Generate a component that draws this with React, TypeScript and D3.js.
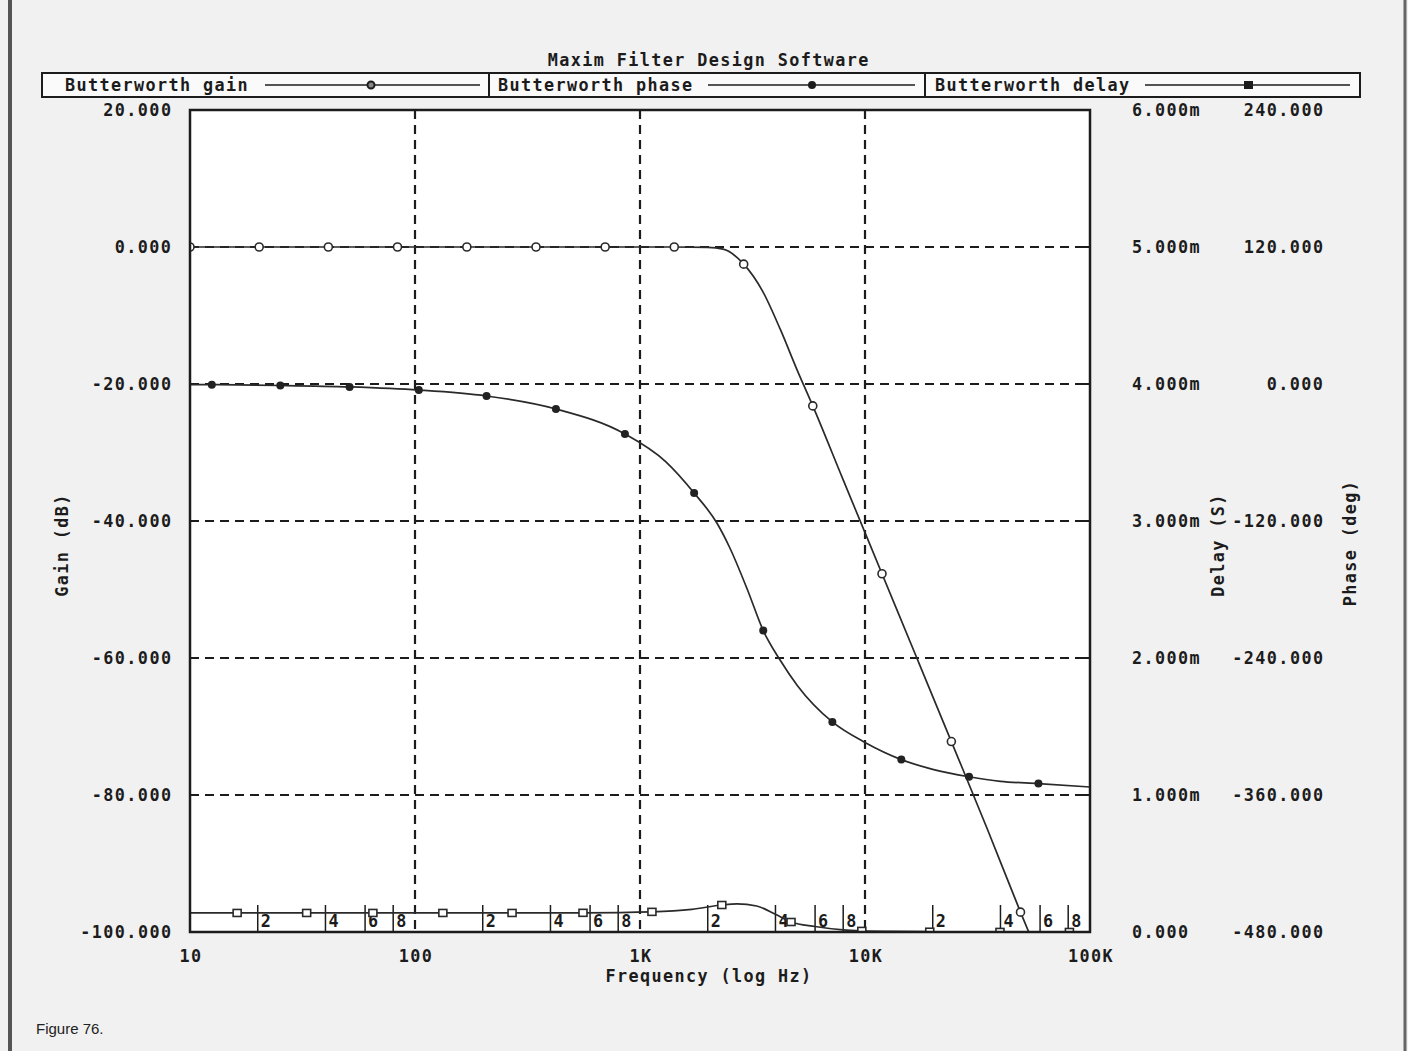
import React, { useEffect } from "react";
import * as d3 from "d3";

// ---------- data ----------
const gainFreq = [10, 20.3, 41.2, 83.6, 170, 345, 700, 1420, 2000, 2340, 2890, 3500, 4200, 5000, 5860, 8000, 11900, 17000, 24200, 35000, 49100, 60000];
const gainDb = [0, 0, 0, 0, 0, 0, 0, 0, -0.05, -0.3, -2.5, -6.4, -12, -18, -23.2, -34, -47.7, -60, -72.2, -85, -97.1, -104];
const gainMarkFreq = [10, 20.3, 41.2, 83.6, 170, 345, 700, 1420, 2890, 5860, 11900, 24200, 49100];

const phaseFreq = [10, 12.5, 25.2, 51.2, 104, 208, 423, 857, 1300, 1740, 2200, 2500, 3000, 3530, 4200, 5000, 7160, 10000, 14500, 20000, 29000, 40000, 59000, 100000];
const phaseDeg = [-0.5, -0.6, -1.3, -2.6, -5.3, -10.5, -21.9, -43.8, -68, -95.5, -122, -143, -180, -216, -242, -264, -296, -314, -329, -337.5, -344, -348, -350, -353];
const phaseMarkFreq = [12.5, 25.2, 51.2, 104, 208, 423, 857, 1740, 3530, 7160, 14500, 29000, 59000];

const delayFreq = [10, 16.2, 33, 65, 133, 270, 558, 1130, 1700, 2310, 2700, 3300, 4000, 4690, 6000, 8000, 9680, 13000, 19400, 39800, 81000, 100000];
const delayMs = [0.139, 0.139, 0.139, 0.139, 0.139, 0.139, 0.14, 0.147, 0.165, 0.197, 0.205, 0.19, 0.13, 0.073, 0.04, 0.015, 0.008, 0.004, 0.002, 0.0005, 0.0001, 0];
const delayMarkFreq = [16.2, 33, 65, 133, 270, 558, 1130, 2310, 4690, 9680, 19400, 39800, 81000];

const gainTicks = [20, 0, -20, -40, -60, -80, -100];
const delayTicks = [6, 5, 4, 3, 2, 1, 0];
const delayTickLabels = ["6.000m", "5.000m", "4.000m", "3.000m", "2.000m", "1.000m", "0.000"];
const phaseTicks = [240, 120, 0, -120, -240, -360, -480];
const freqTicks = [10, 100, 1000, 10000, 100000];
const freqTickLabels = ["10", "100", "1K", "10K", "100K"];
const minorMultipliers = [2, 4, 6, 8];
const decades = [10, 100, 1000, 10000];
const gridFreq = [100, 1000, 10000];
const gridGain = [0, -20, -40, -60, -80];

const titleText = "Maxim Filter Design Software";
const legendLabels = ["Butterworth gain", "Butterworth phase", "Butterworth delay"];

// ---------- layout ----------
const W = 1408, H = 1051;
const L = 190, R = 1090, T = 110, B = 932;
const INK = "#1c1c1c";
const LS = 1.4;
const mono = { fontFamily: "'DejaVu Sans Mono', monospace", fontWeight: 700 as const, fontSize: 16.8, letterSpacing: LS, fill: INK };

export default function App() {
  useEffect(() => {
    document.body.style.margin = "0";
  }, []);

  const x = d3.scaleLog().domain([10, 100000]).range([L, R]);
  const yG = d3.scaleLinear().domain([-100, 20]).range([B, T]);
  const yD = d3.scaleLinear().domain([0, 6]).range([B, T]);
  const yP = d3.scaleLinear().domain([-480, 240]).range([B, T]);

  const mk = (fs: number[], vs: number[], ys: d3.ScaleLinear<number, number>) =>
    d3.line<number>().x((_, i) => x(fs[i])).y((_, i) => ys(vs[i])).curve(d3.curveMonotoneX)(fs.map((_, i) => i)) || "";

  const interp = (fs: number[], vs: number[], f: number) => {
    for (let i = 0; i < fs.length - 1; i++) {
      if (f >= fs[i] && f <= fs[i + 1]) {
        const t = (Math.log10(f) - Math.log10(fs[i])) / (Math.log10(fs[i + 1]) - Math.log10(fs[i]));
        return vs[i] + t * (vs[i + 1] - vs[i]);
      }
    }
    return vs[vs.length - 1];
  };

  const gainPath = mk(gainFreq, gainDb, yG);
  const phasePath = mk(phaseFreq, phaseDeg, yP);
  const delayPath = mk(delayFreq, delayMs, yD);

  const minor: number[] = [];
  decades.forEach((d) => minorMultipliers.forEach((m) => minor.push(d * m)));

  return (
    <svg width={W} height={H} style={{ position: "absolute", left: 0, top: 0, display: "block" }}>
      <defs>
        <clipPath id="plotclip">
          <rect x={L} y={T} width={R - L} height={B - T} />
        </clipPath>
      </defs>
      <rect x={0} y={0} width={W} height={H} fill="#f1f1f1" />
      <line x1={10} y1={0} x2={10} y2={H} stroke="#555" strokeWidth={4} />
      <line x1={1405} y1={0} x2={1405} y2={H} stroke="#666" strokeWidth={3} />

      {/* title */}
      <text x={708 + LS / 2} y={66} textAnchor="middle" {...mono}>{titleText}</text>

      {/* legend */}
      <rect x={42} y={73} width={1318} height={24} fill="#fafafa" stroke={INK} strokeWidth={2} />
      <line x1={489} y1={73} x2={489} y2={97} stroke={INK} strokeWidth={2} />
      <line x1={925} y1={73} x2={925} y2={97} stroke={INK} strokeWidth={2} />
      <text x={65} y={91} {...mono}>{legendLabels[0]}</text>
      <line x1={265} y1={85} x2={480} y2={85} stroke={INK} strokeWidth={1.5} />
      <circle cx={371} cy={85} r={3.5} fill="#888" stroke={INK} strokeWidth={2} />
      <text x={498} y={91} {...mono}>{legendLabels[1]}</text>
      <line x1={708} y1={85} x2={915} y2={85} stroke={INK} strokeWidth={1.5} />
      <circle cx={812} cy={85} r={4} fill={INK} />
      <text x={935} y={91} {...mono}>{legendLabels[2]}</text>
      <line x1={1145} y1={85} x2={1350} y2={85} stroke={INK} strokeWidth={1.5} />
      <rect x={1244} y={81} width={9} height={8} fill={INK} />

      {/* plot area */}
      <rect x={L} y={T} width={R - L} height={B - T} fill="#ffffff" />

      {/* grid */}
      {gridFreq.map((f) => (
        <line key={"gx" + f} x1={x(f)} y1={T} x2={x(f)} y2={B} stroke={INK} strokeWidth={2.2} strokeDasharray="9,6" />
      ))}
      {gridGain.map((g) => (
        <line key={"gy" + g} x1={L} y1={yG(g)} x2={R} y2={yG(g)} stroke={INK} strokeWidth={2.2} strokeDasharray="9,6" />
      ))}

      {/* minor ticks with labels */}
      {minor.map((f, i) => (
        <g key={"mn" + f}>
          <line x1={x(f)} y1={B - 27} x2={x(f)} y2={B} stroke={INK} strokeWidth={1.5} />
          <text x={x(f) + 3} y={B - 5} {...mono} letterSpacing={0}>{String(minorMultipliers[i % 4])}</text>
        </g>
      ))}

      {/* axis ticks */}
      {gainTicks.map((g) => (
        <line key={"lt" + g} x1={L} y1={yG(g)} x2={L + 6} y2={yG(g)} stroke={INK} strokeWidth={2} />
      ))}
      {delayTicks.map((d) => (
        <line key={"rt" + d} x1={R - 6} y1={yD(d)} x2={R} y2={yD(d)} stroke={INK} strokeWidth={2} />
      ))}

      {/* series */}
      <g clipPath="url(#plotclip)" fill="none" stroke="#2a2a2a" strokeWidth={1.7}>
        <path d={delayPath} />
        <path d={phasePath} />
        <path d={gainPath} />
      </g>
      <g clipPath="url(#plotclip)">
        {gainMarkFreq.map((f) => (
          <circle key={"gm" + f} cx={x(f)} cy={yG(interp(gainFreq, gainDb, f))} r={4} fill="#fff" stroke="#2a2a2a" strokeWidth={1.6} />
        ))}
        {phaseMarkFreq.map((f) => (
          <circle key={"pm" + f} cx={x(f)} cy={yP(interp(phaseFreq, phaseDeg, f))} r={4} fill="#222" />
        ))}
        {delayMarkFreq.map((f) => (
          <rect key={"dm" + f} x={x(f) - 4} y={yD(interp(delayFreq, delayMs, f)) - 3.5} width={8} height={7} fill="#fff" stroke="#2a2a2a" strokeWidth={1.6} />
        ))}
      </g>

      {/* frame */}
      <rect x={L} y={T} width={R - L} height={B - T} fill="none" stroke={INK} strokeWidth={2.5} />

      {/* left axis labels */}
      {gainTicks.map((g) => (
        <text key={"gl" + g} x={171 + LS} y={yG(g) + 6} textAnchor="end" {...mono}>{g.toFixed(3)}</text>
      ))}
      <text transform={`translate(68,545) rotate(-90)`} textAnchor="middle" {...mono}>Gain (dB)</text>

      {/* right axis labels */}
      {delayTicks.map((d, i) => (
        <text key={"dl" + d} x={1132} y={yD(d) + 6} {...mono}>{delayTickLabels[i]}</text>
      ))}
      {phaseTicks.map((p) => (
        <text key={"pl" + p} x={1323 + LS} y={yP(p) + 6} textAnchor="end" {...mono}>{p.toFixed(3)}</text>
      ))}
      <text transform={`translate(1224,545) rotate(-90)`} textAnchor="middle" {...mono}>Delay (S)</text>
      <text transform={`translate(1356,543) rotate(-90)`} textAnchor="middle" {...mono}>Phase (deg)</text>

      {/* x axis labels */}
      {freqTicks.map((f, i) => (
        <text key={"xl" + f} x={x(f) + 1} y={962} textAnchor="middle" {...mono}>{freqTickLabels[i]}</text>
      ))}
      <text x={709} y={982} textAnchor="middle" {...mono}>Frequency (log Hz)</text>

      <text x={36} y={1034} fontFamily="'Liberation Sans', Arial, sans-serif" fontSize={15} fill="#222">Figure 76.</text>
    </svg>
  );
}
